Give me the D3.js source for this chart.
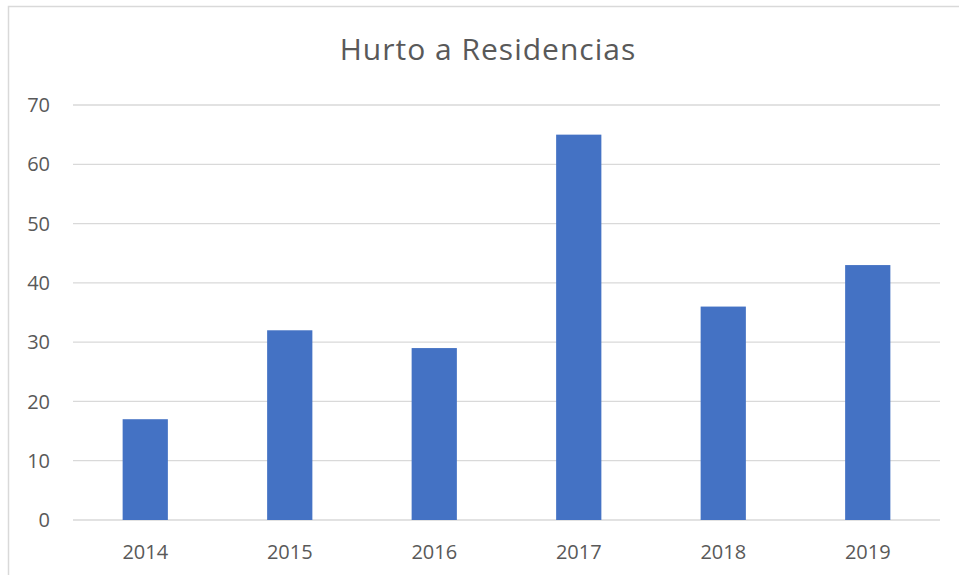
<!DOCTYPE html>
<html><head><meta charset="utf-8">
<script src="https://cdn.jsdelivr.net/npm/d3@7"></script>
<style>body{margin:0;background:#fff}svg{display:block}</style>
</head><body>
<script>
const categories = ["2014","2015","2016","2017","2018","2019"];
const values = [17, 32, 29, 65, 36, 43];
const yTicks = [0,10,20,30,40,50,60,70];
const title = "Hurto a Residencias";

(function(){
const W = 959, H = 575;
const svg = d3.select("body").append("svg").attr("width", W).attr("height", H);
svg.append("rect").attr("x",8.5).attr("y",6.5).attr("width",970).attr("height",600)
  .attr("fill","#fff").attr("stroke","#d9d9d9").attr("stroke-width",1.5);

const mL = 73, mR = 940, mT = 105, mB = 520;
const x = d3.scaleBand().domain(categories).range([mL,mR]).paddingInner(0.687).paddingOuter(0.3435);
const y = d3.scaleLinear().domain([0,70]).range([mB, mT]);

svg.append("g").selectAll("line").data(yTicks).join("line")
  .attr("x1",mL).attr("x2",mR).attr("y1",d=>y(d)).attr("y2",d=>y(d))
  .attr("stroke","#d9d9d9").attr("stroke-width",1.3);

svg.append("g").selectAll("rect").data(values).join("rect")
  .attr("x",(d,i)=>x(categories[i])).attr("width",x.bandwidth())
  .attr("y",d=>y(d)).attr("height",d=>y(0)-y(d)).attr("fill","#4472c4");

const font = "'Open Sans', sans-serif";
svg.append("g").selectAll("text").data(yTicks).join("text")
  .attr("x",50).attr("y",d=>y(d)).attr("dy","0.36em").attr("text-anchor","end")
  .attr("font-family",font).attr("font-size",20).attr("fill","#595959").text(d=>d);

svg.append("g").selectAll("text").data(categories).join("text")
  .attr("x",d=>x(d)+x.bandwidth()/2).attr("y",559).attr("text-anchor","middle")
  .attr("font-family",font).attr("font-size",20).attr("fill","#595959").text(d=>d);

svg.append("text").attr("x",488).attr("y",60).attr("text-anchor","middle")
  .attr("font-family",font).attr("font-size",30).attr("letter-spacing","1px")
  .attr("fill","#595959").text(title);
})();
</script>
</body></html>
